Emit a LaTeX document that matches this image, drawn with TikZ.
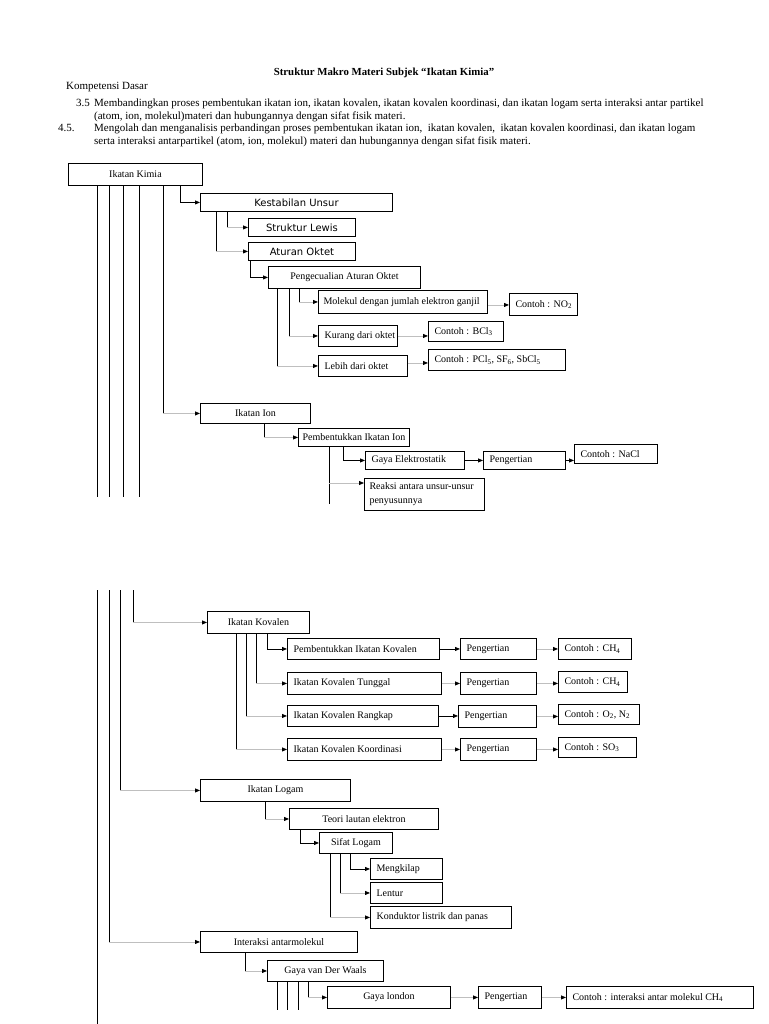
\documentclass[tikz,border=0pt]{standalone}
\usepackage{fontspec}
\setmainfont{Liberation Serif}
\newfontfamily\sansfont{DejaVu Sans}
\usetikzlibrary{arrows.meta}

\tikzset{
  box/.style={draw, line width=0.9pt, anchor=north west, inner sep=0pt},
  lbl/.style={font=\fontsize{10}{12}\selectfont},
  slbl/.style={font=\sansfont\fontsize{10}{12}\selectfont},
  teks/.style={anchor=north west, inner sep=0pt, align=left, font=\fontsize{11}{12.4}\selectfont},
  con/.style={line width=0.8pt},
  arr/.style={con, -{Triangle[length=5pt, width=4pt]}},
  tail/.style={line width=0.8pt, gray!50, -{Triangle[length=5pt, width=4pt, black]}}
}

\begin{document}
\begin{tikzpicture}[x=1pt, y=-1pt, every label/.style={lbl}]
    \useasboundingbox (0,0) rectangle (768,1024);
    % judul dan kompetensi dasar
    \node (judul) [font=\bfseries\fontsize{10.8}{12}\selectfont] at (384,73) {Struktur Makro Materi Subjek “Ikatan Kimia”};
    \node (kd) [teks, anchor=west] at (66,87) {Kompetensi Dasar};
    \node (no35) [teks] at (76,99) {3.5};
    \node (kd35) [teks] at (94,99) {Membandingkan proses pembentukan ikatan ion, ikatan kovalen, ikatan kovalen koordinasi, dan ikatan logam serta interaksi antar partikel\\(atom, ion, molekul)materi dan hubungannya dengan sifat fisik materi.};
    \node (no45) [teks] at (58,124) {4.5.};
    \node (kd45) [teks] at (94,124) {Mengolah dan menganalisis perbandingan proses pembentukan ikatan ion,~ ikatan kovalen,~ ikatan kovalen koordinasi, dan ikatan logam\\serta interaksi antarpartikel (atom, ion, molekul) materi dan hubungannya dengan sifat fisik materi.};

    % halaman pertama
    \node (kimia) [box, minimum width=134pt, minimum height=22pt, label=center:Ikatan Kimia] at (68,163) {};
    \node (kestabilan) [box, minimum width=192pt, minimum height=18pt, label={[slbl]center:Kestabilan Unsur}] at (200,193) {};
    \node (lewis) [box, minimum width=107pt, minimum height=18pt, label={[slbl]center:Struktur Lewis}] at (248,218) {};
    \node (oktet) [box, minimum width=107pt, minimum height=18pt, label={[slbl]center:Aturan Oktet}] at (248,242) {};
    \node (pengecualian) [box, minimum width=152pt, minimum height=22pt, label=center:Pengecualian Aturan Oktet] at (268,266) {};
    \node (ganjil) [box, minimum width=169pt, minimum height=23pt, label={[anchor=west, xshift=2pt]west:Molekul dengan jumlah elektron ganjil}] at (318,290) {};
    \node (no2) [box, minimum width=68pt, minimum height=22pt, label={[anchor=west, xshift=3pt]west:{Contoh : NO\textsubscript{2}}}] at (509,293) {};
    \node (kurang) [box, minimum width=79pt, minimum height=21pt, label={[anchor=west, xshift=3pt]west:Kurang dari oktet}] at (318,325) {};
    \node (bcl3) [box, minimum width=75pt, minimum height=20pt, label={[anchor=west, xshift=3pt]west:{Contoh : BCl\textsubscript{3}}}] at (428,321) {};
    \node (lebih) [box, minimum width=89pt, minimum height=21pt, label={[anchor=west, xshift=3pt]west:Lebih dari oktet}] at (318,355) {};
    \node (pcl5) [box, minimum width=137pt, minimum height=21pt, label={[anchor=west, xshift=3pt]west:{Contoh : PCl\textsubscript{5}, SF\textsubscript{6}, SbCl\textsubscript{5}}}] at (428,349) {};
    \node (ion) [box, minimum width=110pt, minimum height=20pt, label=center:Ikatan Ion] at (200,403) {};
    \node (pemion) [box, minimum width=111pt, minimum height=18pt, label=center:Pembentukkan Ikatan Ion] at (298,428) {};
    \node (elektro) [box, minimum width=99pt, minimum height=18pt, label={[anchor=west, xshift=3pt]west:Gaya Elektrostatik}] at (365,451) {};
    \node (pengion) [box, minimum width=82pt, minimum height=18pt, label={[anchor=west, xshift=3pt]west:Pengertian}] at (483,451) {};
    \node (nacl) [box, minimum width=83pt, minimum height=19pt, label={[anchor=west, xshift=3pt]west:Contoh : NaCl}] at (574,444) {};
    \node (reaksi) [box, minimum width=120pt, minimum height=32pt, label={[anchor=north west, align=left, xshift=2pt, yshift=-1pt, font=\fontsize{10}{14}\selectfont]north west:Reaksi antara unsur-unsur\\penyusunnya}] at (364,478) {};

    % garis batang yang terputus di akhir halaman
    \coordinate (putus1) at (97,497);
    \coordinate (putus2) at (109,497);
    \coordinate (putus3) at (123,497);
    \coordinate (putus4) at (139,497);
    \coordinate (bawahion) at (329,504);
    \draw [con] (kimia.south -| putus1) -- (putus1);
    \draw [con] (kimia.south -| putus2) -- (putus2);
    \draw [con] (kimia.south -| putus3) -- (putus3);
    \draw [con] (kimia.south -| putus4) -- (putus4);

    % penghubung halaman pertama
    \draw [arr] (kimia.south -| 180,0) |- (kestabilan.west);
    \draw [con] (kimia.south -| 163,0) -- (ion.west -| 163,0);
    \draw [tail] (ion.west -| 163,0) -- (ion.west);
    \draw [con] (kestabilan.south -| 227,0) -- (lewis.west -| 227,0);
    \draw [tail] (lewis.west -| 227,0) -- (lewis.west);
    \draw [con] (kestabilan.south -| 216,0) -- (oktet.west -| 216,0);
    \draw [tail] (oktet.west -| 216,0) -- (oktet.west);
    \draw [arr] (oktet.south -| 250,0) |- (pengecualian.west);
    \draw [con] (pengecualian.south -| 299,0) -- (ganjil.west -| 299,0);
    \draw [tail] (ganjil.west -| 299,0) -- (ganjil.west);
    \draw [con] (pengecualian.south -| 289,0) -- (kurang.west -| 289,0);
    \draw [tail] (kurang.west -| 289,0) -- (kurang.west);
    \draw [con] (pengecualian.south -| 277,0) -- (lebih.west -| 277,0);
    \draw [tail] (lebih.west -| 277,0) -- (lebih.west);
    \draw [tail] ([yshift=-3pt]ganjil.east) -- ([yshift=-3pt]ganjil.east -| no2.west);
    \draw [tail] (kurang.east) -- (kurang.east -| bcl3.west);
    \draw [tail] ([yshift=3pt]lebih.east) -- ([yshift=3pt]lebih.east -| pcl5.west);
    \draw [con] (ion.south -| 264,0) -- (pemion.west -| 264,0);
    \draw [tail] (pemion.west -| 264,0) -- (pemion.west);
    \draw [arr] (pemion.south -| 343,0) |- (elektro.west);
    \draw [con] (pemion.south -| bawahion) -- (bawahion);
    \draw [tail] ([yshift=-5pt]reaksi.north west -| bawahion) -- ([yshift=-5pt]reaksi.north west);
    \draw [arr] (elektro.east) -- (pengion.west);
    \draw [arr] (pengion.east) -- (pengion.east -| nacl.west);

    % halaman kedua
    \node (kovalen) [box, minimum width=102pt, minimum height=22pt, label=center:Ikatan Kovalen] at (207,611) {};
    \node (pemkov) [box, minimum width=152pt, minimum height=21pt, label={[anchor=west, xshift=3pt]west:Pembentukkan Ikatan Kovalen}] at (287,638) {};
    \node (arti1) [box, minimum width=76pt, minimum height=21pt, label={[anchor=west, xshift=3pt]west:Pengertian}] at (460,638) {};
    \node (ch4a) [box, minimum width=73pt, minimum height=21pt, label={[anchor=west, xshift=3pt]west:{Contoh : CH\textsubscript{4}}}] at (558,638) {};
    \node (tunggal) [box, minimum width=154pt, minimum height=22pt, label={[anchor=west, xshift=3pt]west:Ikatan Kovalen Tunggal}] at (287,672) {};
    \node (arti2) [box, minimum width=76pt, minimum height=22pt, label={[anchor=west, xshift=3pt]west:Pengertian}] at (460,672) {};
    \node (ch4b) [box, minimum width=69pt, minimum height=21pt, label={[anchor=west, xshift=3pt]west:{Contoh : CH\textsubscript{4}}}] at (558,671) {};
    \node (rangkap) [box, minimum width=151pt, minimum height=21pt, label={[anchor=west, xshift=3pt]west:Ikatan Kovalen Rangkap}] at (287,705) {};
    \node (arti3) [box, minimum width=78pt, minimum height=22pt, label={[anchor=west, xshift=3pt]west:Pengertian}] at (458,705) {};
    \node (o2n2) [box, minimum width=81pt, minimum height=20pt, label={[anchor=west, xshift=3pt]west:{Contoh : O\textsubscript{2}, N\textsubscript{2}}}] at (558,704) {};
    \node (koordinasi) [box, minimum width=154pt, minimum height=22pt, label={[anchor=west, xshift=3pt]west:Ikatan Kovalen Koordinasi}] at (287,738) {};
    \node (arti4) [box, minimum width=76pt, minimum height=22pt, label={[anchor=west, xshift=3pt]west:Pengertian}] at (460,738) {};
    \node (so3) [box, minimum width=78pt, minimum height=20pt, label={[anchor=west, xshift=3pt]west:{Contoh : SO\textsubscript{3}}}] at (558,737) {};
    \node (logam) [box, minimum width=150pt, minimum height=22pt, label=center:Ikatan Logam] at (200,779) {};
    \node (teori) [box, minimum width=149pt, minimum height=21pt, label=center:Teori lautan elektron] at (289,808) {};
    \node (sifat) [box, minimum width=73pt, minimum height=21pt, label=center:Sifat Logam] at (319,832) {};
    \node (kilap) [box, minimum width=72pt, minimum height=21pt, label={[anchor=west, xshift=3pt]west:Mengkilap}] at (370,858) {};
    \node (lentur) [box, minimum width=72pt, minimum height=21pt, label={[anchor=west, xshift=3pt]west:Lentur}] at (370,882) {};
    \node (konduktor) [box, minimum width=141pt, minimum height=22pt, label={[anchor=west, xshift=3pt]west:Konduktor listrik dan panas}] at (370,906) {};
    \node (interaksi) [box, minimum width=157pt, minimum height=21pt, label=center:Interaksi antarmolekul] at (200,931) {};
    \node (waals) [box, minimum width=116pt, minimum height=21pt, label=center:Gaya van Der Waals] at (267,960) {};
    \node (london) [box, minimum width=123pt, minimum height=22pt, label=center:Gaya london] at (327,986) {};
    \node (arti5) [box, minimum width=63pt, minimum height=22pt, label={[anchor=west, xshift=3pt]west:Pengertian}] at (478,986) {};
    \node (ch4c) [box, minimum width=187pt, minimum height=22pt, label={[anchor=west, xshift=3pt]west:{Contoh : interaksi antar molekul CH\textsubscript{4}}}] at (566,986) {};

    % garis batang lanjutan
    \coordinate (sambung1) at (97,590);
    \coordinate (sambung2) at (109,590);
    \coordinate (sambung3) at (120,590);
    \coordinate (sambung4) at (133,590);
    \coordinate (ujung) at (97,1024);
    \draw [con] (sambung1) -- (ujung);
    \draw [con] (sambung2) -- (interaksi.west -| sambung2);
    \draw [tail] (interaksi.west -| sambung2) -- (interaksi.west);
    \draw [con] (sambung3) -- (logam.west -| sambung3);
    \draw [tail] (logam.west -| sambung3) -- (logam.west);
    \draw [con] (sambung4) -- (kovalen.west -| sambung4);
    \draw [tail] (kovalen.west -| sambung4) -- (kovalen.west);

    % penghubung halaman kedua
    \draw [arr] (kovalen.south -| 267,0) |- (pemkov.west);
    \draw [con] (kovalen.south -| 256,0) -- (tunggal.west -| 256,0);
    \draw [tail] (tunggal.west -| 256,0) -- (tunggal.west);
    \draw [con] (kovalen.south -| 246,0) -- (rangkap.west -| 246,0);
    \draw [tail] (rangkap.west -| 246,0) -- (rangkap.west);
    \draw [con] (kovalen.south -| 236,0) -- (koordinasi.west -| 236,0);
    \draw [tail] (koordinasi.west -| 236,0) -- (koordinasi.west);
    \draw [arr] (pemkov.east) -- (arti1.west);
    \draw [tail] (arti1.east) -- (ch4a.west);
    \draw [tail] (tunggal.east) -- (arti2.west);
    \draw [tail] (arti2.east) -- (arti2.east -| ch4b.west);
    \draw [arr] (rangkap.east) -- (rangkap.east -| arti3.west);
    \draw [tail] (arti3.east) -- (arti3.east -| o2n2.west);
    \draw [tail] (koordinasi.east) -- (arti4.west);
    \draw [tail] (arti4.east) -- (arti4.east -| so3.west);
    \draw [con] (logam.south -| 265,0) -- (teori.west -| 265,0);
    \draw [tail] (teori.west -| 265,0) -- (teori.west);
    \draw [arr] (teori.south -| 300,0) |- (sifat.west);
    \draw [arr] (sifat.south -| 350,0) |- (kilap.west);
    \draw [con] (sifat.south -| 340,0) -- (lentur.west -| 340,0);
    \draw [tail] (lentur.west -| 340,0) -- (lentur.west);
    \draw [con] (sifat.south -| 330,0) -- (konduktor.west -| 330,0);
    \draw [tail] (konduktor.west -| 330,0) -- (konduktor.west);
    \draw [con] (interaksi.south -| 245,0) -- (waals.west -| 245,0);
    \draw [tail] (waals.west -| 245,0) -- (waals.west);
    \coordinate (putus5) at (277,1010);
    \coordinate (putus6) at (287,1010);
    \coordinate (putus7) at (298,1010);
    \draw [con] (waals.south -| putus5) -- (putus5);
    \draw [con] (waals.south -| putus6) -- (putus6);
    \draw [con] (waals.south -| putus7) -- (putus7);
    \draw [con] (waals.south -| 308,0) -- (london.west -| 308,0);
    \draw [tail] (london.west -| 308,0) -- (london.west);
    \draw [tail] (london.east) -- (arti5.west);
    \draw [tail] (arti5.east) -- (ch4c.west);
\end{tikzpicture}
\end{document}
